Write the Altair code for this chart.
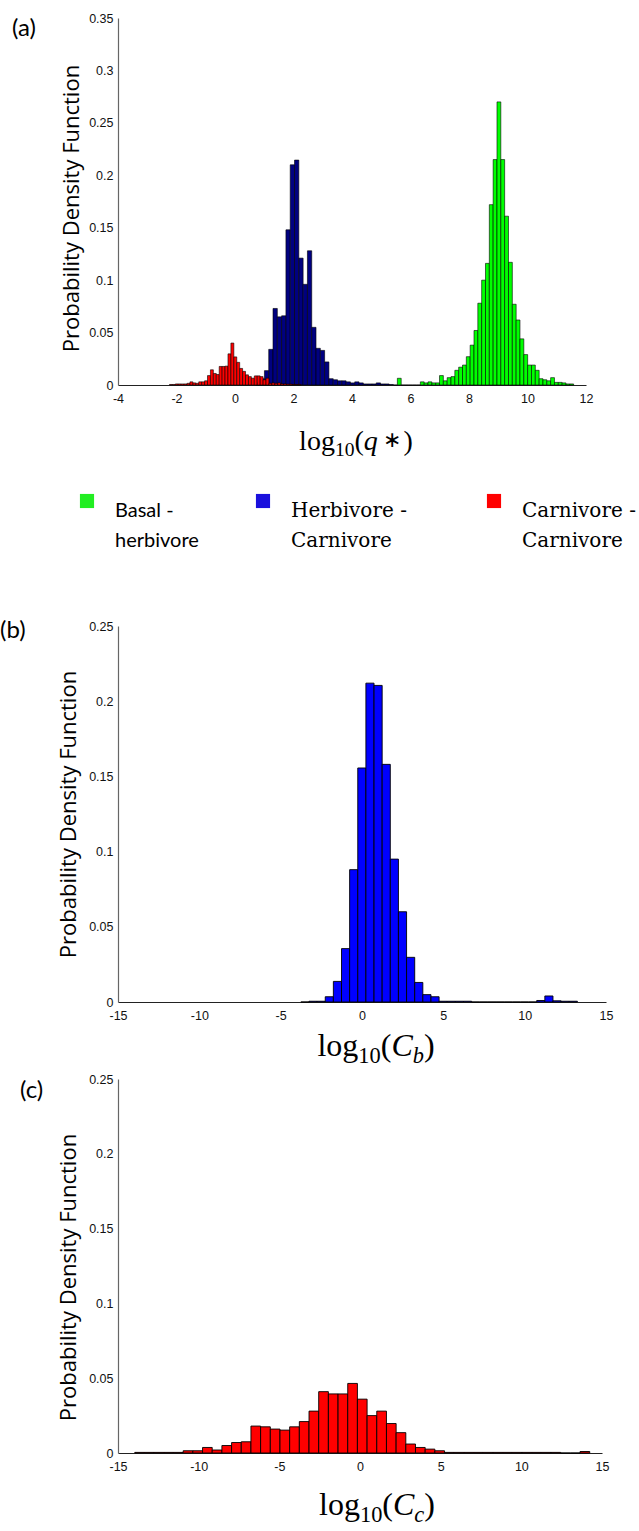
import altair as alt
import pandas as pd

# ---------------- data ----------------
series_names = ["Basal - herbivore", "Herbivore - Carnivore", "Carnivore - Carnivore"]
bar_colors = ["#00ff00", "#000080", "#ff0000"]
legend_colors = ["#22ee22", "#1a10dd", "#ff0000"]

# panel (a): log10(q*) histograms (bin start, bin width, pdf heights)
basal_start, basal_width = 5.42, 0.131
basal_pdf = [0, 0.0064, 0, 0, 0, 0, 0, 0.003, 0.002, 0.003, 0.002, 0.002,
             0.009, 0.004, 0.007, 0.008, 0.014, 0.017, 0.019, 0.027, 0.038, 0.052,
             0.078, 0.1, 0.116, 0.172, 0.215, 0.27, 0.215, 0.161, 0.117, 0.077,
             0.062, 0.044, 0.029, 0.019, 0.019, 0.014, 0.006, 0.005, 0.004, 0.007,
             0.0025, 0.0025, 0.002, 0.001, 0.001]

herb_start, herb_width = 0.712, 0.147
herb_pdf = [0.002, 0.006, 0.0137, 0.034, 0.073, 0.065, 0.066, 0.148, 0.210, 0.2145,
            0.121, 0.096, 0.128, 0.055, 0.035, 0.033, 0.022, 0.006, 0.005, 0.004,
            0.004, 0.003, 0.002, 0.003, 0.002, 0.001, 0.001, 0.001, 0.002, 0.001,
            0.001, 0.0005]

carn_start, carn_width = -2.24, 0.1
carn_pdf = [0.0005, 0.0005, 0.001, 0.001, 0.001, 0.001, 0.0016, 0.003, 0.002, 0.0016,
            0.003, 0.003, 0.004, 0.009, 0.0145, 0.011, 0.010, 0.0177, 0.0177, 0.018,
            0.0297, 0.040, 0.0268, 0.0216, 0.0158, 0.013, 0.0097, 0.008, 0.0065, 0.0087,
            0.0087, 0.008, 0.005, 0.0065, 0.0016, 0.002, 0.0016, 0.002, 0.001, 0.001,
            0.0008, 0.0008, 0.0005, 0.0005, 0.0005]

# panel (b): log10(Cb)
cb_start, cb_width = -3.76, 0.5
cb_pdf = [0, 0.0005, 0.0005, 0.0035, 0.0137, 0.0355, 0.088, 0.1556, 0.212, 0.2105,
          0.158, 0.095, 0.060, 0.0297, 0.013, 0.0049, 0.0035, 0.0005, 0.0005, 0.0005,
          0.0005, 0, 0, 0, 0, 0, 0, 0, 0, 0.001,
          0.004, 0.0008, 0.0005, 0.0005]

# panel (c): log10(Cc)
cc_start, cc_width = -13.96, 0.6
cc_pdf = [0.0004, 0.0004, 0.0004, 0.0004, 0.0004,
          0.0015, 0.0015, 0.0037, 0.002, 0.005, 0.007, 0.0075, 0.018, 0.0175, 0.016,
          0.0153, 0.0175, 0.021, 0.028, 0.041, 0.0395, 0.0395, 0.0465, 0.036, 0.025,
          0.028, 0.0197, 0.0136, 0.006, 0.0037, 0.0026, 0.0015,
          0.0004, 0.0004, 0.0004, 0.0004, 0.0004, 0.0004, 0.0004, 0.0004, 0.0004, 0.0004,
          0.0004, 0.0004, 0, 0, 0.001]

a_xticks = [-4, -2, 0, 2, 4, 6, 8, 10, 12]
a_yticks = [0, 0.05, 0.1, 0.15, 0.2, 0.25, 0.3, 0.35]
bc_xticks = [-15, -10, -5, 0, 5, 10, 15]
bc_yticks = [0, 0.05, 0.1, 0.15, 0.2, 0.25]

y_title = "Probability Density Function"
panel_labels = ["(a)", "(b)", "(c)"]

# title pieces: (text, size factor, italic, subscript); " " only advances
title_a = [("log", 1.0, False, False), ("10", 0.7, False, True), ("(", 1.0, False, False),
           ("q", 1.0, True, False), (" ", 1.0, False, False), ("\u2217", 0.8, False, False),
           (")", 1.0, False, False)]
title_b = [("log", 1.0, False, False), ("10", 0.7, False, True), ("(", 1.0, False, False),
           ("C", 1.0, True, False), ("b", 0.7, True, True), (")", 1.0, False, False)]
title_c = [("log", 1.0, False, False), ("10", 0.7, False, True), ("(", 1.0, False, False),
           ("C", 1.0, True, False), ("c", 0.7, True, True), (")", 1.0, False, False)]


# ---------------- helpers ----------------
def hist_frame(start, width, values, name):
    n = len(values)
    return pd.DataFrame({
        "x0": [round(start + i * width, 4) for i in range(n)],
        "x1": [round(start + (i + 1) * width, 4) for i in range(n)],
        "pdf": values,
        "series": [name] * n,
    })


EM_REG = {"l": .278, "o": .5, "g": .5, "1": .5, "0": .5, "(": .333, ")": .333, " ": .2, "\u2217": .9}
EM_IT = {"q": .5, "C": .667, "b": .5, "c": .444}


def text_width(s, italic, size):
    table = EM_IT if italic else EM_REG
    return sum(table.get(ch, 0.5) for ch in s) * size


def math_title(pieces, cx, base_y, size):
    total = sum(text_width(t, it, size * sc) for t, sc, it, sub in pieces)
    x = cx - total / 2
    layers = []
    for t, sc, it, sub in pieces:
        fs = size * sc
        if t.strip():
            layers.append(
                alt.Chart(pd.DataFrame({"t": [t]})).mark_text(
                    font="Liberation Serif", fontSize=fs,
                    fontStyle="italic" if it else "normal",
                    align="left", baseline="alphabetic", color="black",
                ).encode(text="t:N", x=alt.value(x),
                         y=alt.value(base_y + (0.22 * size if sub else 0)
                                     - (0.1 * size if t == "\u2217" else 0)))
            )
        x += text_width(t, it, fs)
    return layers


def panel_label(text, x, y):
    return alt.Chart(pd.DataFrame({"t": [text]})).mark_text(
        font="Lato", fontSize=24, align="left", baseline="middle", color="black"
    ).encode(text="t:N", x=alt.value(x), y=alt.value(y))


def x_axis(ticks):
    return alt.Axis(values=ticks, labelExpr="'' + datum.value", title=None, grid=False,
                    ticks=False, domainColor="#222", domainWidth=1.2,
                    labelFont="Liberation Sans", labelFontSize=12.5, labelColor="#111",
                    labelPadding=7, labelFlush=False, labelOverlap=False)


def y_axis(ticks, title_pad, title_y):
    return alt.Axis(values=ticks, format=".2~f", title=y_title, grid=False, ticks=False,
                    domainColor="#666", domainWidth=1.2,
                    labelFont="Liberation Sans", labelFontSize=12.5, labelColor="#111",
                    labelPadding=5, labelFlush=False, labelOverlap=False,
                    titleFont="Open Sans", titleFontSize=22, titleFontWeight="normal",
                    titleColor="black", titlePadding=title_pad, titleY=title_y)


def legend_layer(names, colors, font, lx, ly, col_pad):
    leg = alt.Legend(
        orient="none", legendX=lx, legendY=ly, direction="horizontal", title=None,
        symbolType="square", symbolSize=200, symbolStrokeWidth=0, symbolOpacity=1,
        labelFont=font, labelFontSize=20, labelColor="black", labelBaseline="top",
        labelOffset=18, labelLimit=300, columnPadding=col_pad, padding=0,
        labelExpr="[split(datum.label, ' - ')[0] + ' -', split(datum.label, ' - ')[1]]",
    )
    return alt.Chart(pd.DataFrame({"series": names})).mark_square(opacity=0).encode(
        x=alt.value(0), y=alt.value(0),
        fill=alt.Fill("series:N", scale=alt.Scale(domain=names, range=colors), legend=leg),
    )


# ---------------- panel (a) ----------------
df_a = pd.concat([
    hist_frame(basal_start, basal_width, basal_pdf, series_names[0]),
    hist_frame(herb_start, herb_width, herb_pdf, series_names[1]),
    hist_frame(carn_start, carn_width, carn_pdf, series_names[2]),
], ignore_index=True)

A_W, A_TOP, A_H = 468, 15, 367
bars_a = alt.Chart(df_a).mark_rect(stroke="black", strokeWidth=0.6).encode(
    x=alt.X("x0:Q", scale=alt.Scale(domain=[-4, 12], nice=False, zero=False), axis=x_axis(a_xticks)),
    x2="x1",
    y=alt.Y("pdf:Q", scale=alt.Scale(domain=[0, 0.35], range=[A_TOP + A_H, A_TOP], nice=False),
            axis=y_axis(a_yticks, 5, 205)),
    y2=alt.datum(0),
    color=alt.Color("series:N", scale=alt.Scale(domain=series_names, range=bar_colors), legend=None),
)
leg1 = legend_layer(series_names[:1], legend_colors[:1], "Lato", -41, 488, 60)
leg2 = legend_layer(series_names[1:], legend_colors[1:], "DejaVu Serif", 135, 488, 77)

panel_a = alt.layer(bars_a, leg1, leg2, *math_title(title_a, 238, 447, 28),
                    panel_label(panel_labels[0], -106, 26)).properties(
    width=A_W, height=A_TOP + A_H
).resolve_scale(fill="independent").resolve_legend(fill="independent")

# ---------------- panel (b) ----------------
B_W, B_TOP, B_H = 488, 241, 376
bars_b = alt.Chart(hist_frame(cb_start, cb_width, cb_pdf, "Cb")).mark_rect(
    fill="#0000ff", stroke="black", strokeWidth=0.9).encode(
    x=alt.X("x0:Q", scale=alt.Scale(domain=[-15, 15], nice=False, zero=False), axis=x_axis(bc_xticks)),
    x2="x1",
    y=alt.Y("pdf:Q", scale=alt.Scale(domain=[0, 0.25], range=[B_TOP + B_H, B_TOP], nice=False),
            axis=y_axis(bc_yticks, 8, B_TOP + B_H / 2)),
    y2=alt.datum(0),
)
panel_b = alt.layer(bars_b, *math_title(title_b, 258, 671, 32),
                    panel_label(panel_labels[1], -118, 246)).properties(width=B_W, height=B_TOP + B_H)

# ---------------- panel (c) ----------------
C_W, C_TOP, C_H = 484, 77, 374
bars_c = alt.Chart(hist_frame(cc_start, cc_width, cc_pdf, "Cc")).mark_rect(
    fill="#ff0000", stroke="black", strokeWidth=0.9).encode(
    x=alt.X("x0:Q", scale=alt.Scale(domain=[-15, 15], nice=False, zero=False), axis=x_axis(bc_xticks)),
    x2="x1",
    y=alt.Y("pdf:Q", scale=alt.Scale(domain=[0, 0.25], range=[C_TOP + C_H, C_TOP], nice=False),
            axis=y_axis(bc_yticks, 8, 275)),
    y2=alt.datum(0),
)
panel_c = alt.layer(bars_c, *math_title(title_c, 259, 513, 32),
                    panel_label(panel_labels[2], -98, 89)).properties(width=C_W, height=C_TOP + C_H)

chart = alt.vconcat(panel_a, panel_b, panel_c, spacing=0, bounds="flush").properties(
    padding=0, background="white"
).configure(style={"guide-label": {"lineHeight": 30}}).configure_view(stroke=None)

chart.save("out.html", embed_options={"renderer": "svg", "actions": False})
